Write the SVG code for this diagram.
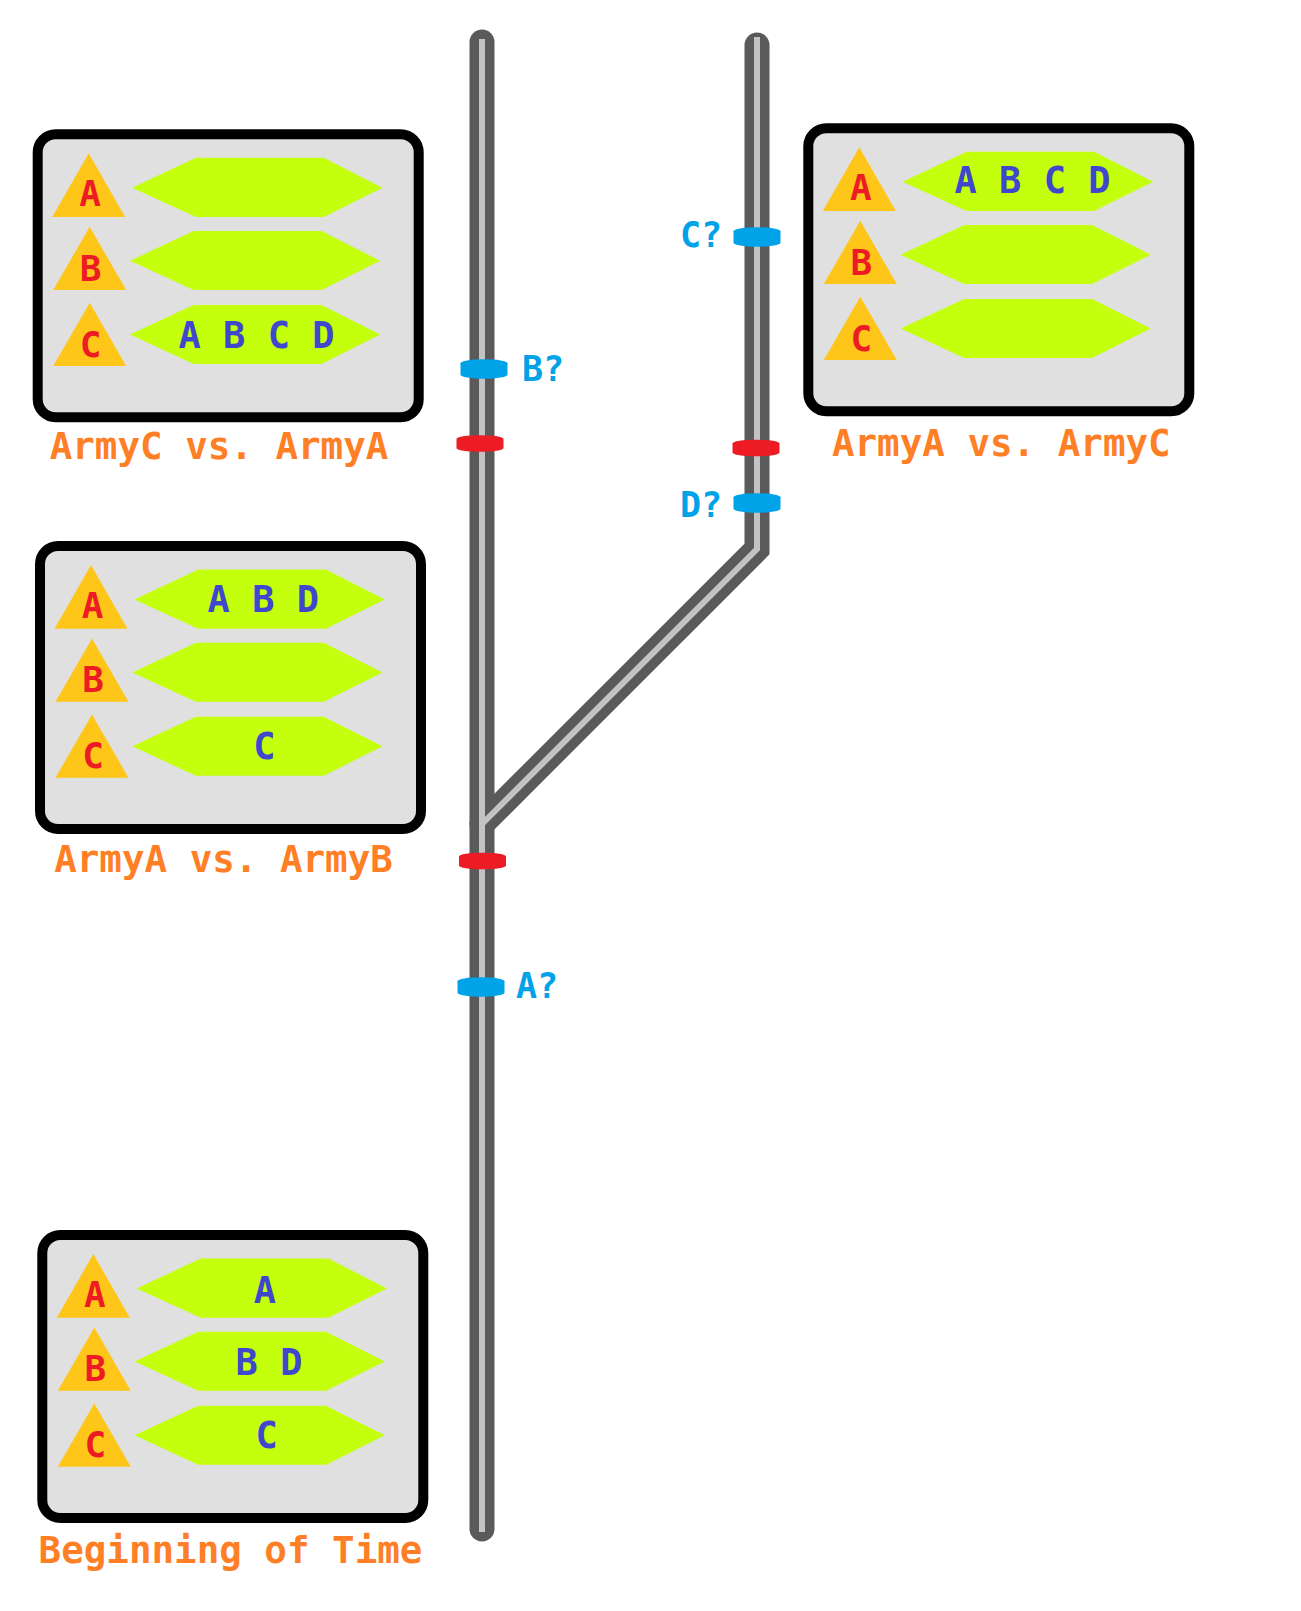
<svg xmlns="http://www.w3.org/2000/svg" width="1301" height="1611" viewBox="0 0 1301 1611">
<style>
text{font-family:"DejaVu Sans Mono","Liberation Mono",monospace;font-weight:bold}
.box{fill:#e0e0e0;stroke:#000;stroke-width:10}
.tri{fill:#ffc61a}
.hex{fill:#c4ff0e}
.tl{fill:#ed1c24;font-size:36px;text-anchor:middle}
.hl{fill:#3f48cc;font-size:37px;text-anchor:middle}
.title{fill:#ff7f27;font-size:37.5px;text-anchor:middle}
.ql{fill:#00a2e8;font-size:35px}
.dark{fill:none;stroke:#5a5a5a;stroke-width:25}
.light{fill:none;stroke:#c3c3c3;stroke-width:6}
.mb{fill:#00a2e8}
.mr{fill:#ed1c24}
</style>
<defs>
<path id="mblue" d="M-23.5,-5.75 A23.5,4 0 0 1 23.5,-5.75 V5.75 A23.5,4 0 0 1 -23.5,5.75 Z"/>
<path id="mred" d="M-23.5,-4.5 A23.5,3.75 0 0 1 23.5,-4.5 V4.5 A23.5,3.75 0 0 1 -23.5,4.5 Z"/>
</defs>
<rect width="1301" height="1611" fill="#fff"/>

<g id="connectors">
<path class="dark" d="M482,42 V1529" stroke-linecap="round"/>
<path class="dark" d="M757,45 V549 L482,824" stroke-linecap="round" stroke-linejoin="miter"/>
<path class="dark" d="M757,549 L482,824" stroke-linecap="butt"/>
<path class="light" d="M482,39 V1532"/>
<path class="light" d="M757,37 V549 L482,824" stroke-linejoin="miter"/>
</g>

<g id="markers">
<use href="#mblue" class="mb" transform="translate(484,369)"/>
<use href="#mred" class="mr" transform="translate(480,443.5)"/>
<use href="#mblue" class="mb" transform="translate(757,237)"/>
<use href="#mred" class="mr" transform="translate(756,448)"/>
<use href="#mblue" class="mb" transform="translate(757,503)"/>
<use href="#mred" class="mr" transform="translate(482.5,861)"/>
<use href="#mblue" class="mb" transform="translate(481,987)"/>
<text class="ql" x="522" y="381">B?</text>
<text class="ql" x="680" y="246.7">C?</text>
<text class="ql" x="680" y="516.7">D?</text>
<text class="ql" x="516" y="998.3">A?</text>
</g>

<g id="box-armyc-vs-armya">
<g transform="translate(37.7,134.3)">
<rect class="box" x="0" y="0" width="381" height="283" rx="18"/>
<polygon class="tri" points="51,19 87.5,82.7 14.5,82.7"/>
<polygon class="hex" points="94.3,53.5 158.3,23.5 286,23.5 344.8,53.5 286,82.7 158.3,82.7"/>
<polygon class="tri" points="52,92.4 88.5,155.8 15.5,155.8"/>
<polygon class="hex" points="92.3,126.5 155.8,96.7 283.8,96.7 342.5,126.5 283.8,155.8 155.8,155.8"/>
<polygon class="tri" points="52,168.4 88.5,231.7 15.5,231.7"/>
<polygon class="hex" points="92.3,200.3 155.8,170.8 283.8,170.8 342.5,200.3 283.8,229.7 155.8,229.7"/>
<text class="tl" x="52.5" y="71.7">A</text>
<text class="tl" x="53" y="146.4">B</text>
<text class="tl" x="53" y="222.4">C</text>
</g>
<text class="hl" x="256.5" y="348">A B C D</text>
<text class="title" x="219" y="459.3">ArmyC vs. ArmyA</text>
</g>

<g id="box-armya-vs-armyc">
<g transform="translate(808.3,128.3)">
<rect class="box" x="0" y="0" width="381" height="283" rx="18"/>
<polygon class="tri" points="51,19 87.5,82.7 14.5,82.7"/>
<polygon class="hex" points="94.3,53.5 158.3,23.5 286,23.5 344.8,53.5 286,82.7 158.3,82.7"/>
<polygon class="tri" points="52,92.4 88.5,155.8 15.5,155.8"/>
<polygon class="hex" points="92.3,126.5 155.8,96.7 283.8,96.7 342.5,126.5 283.8,155.8 155.8,155.8"/>
<polygon class="tri" points="52,168.4 88.5,231.7 15.5,231.7"/>
<polygon class="hex" points="92.3,200.3 155.8,170.8 283.8,170.8 342.5,200.3 283.8,229.7 155.8,229.7"/>
<text class="tl" x="52.5" y="71.7">A</text>
<text class="tl" x="53" y="146.4">B</text>
<text class="tl" x="53" y="222.4">C</text>
</g>
<text class="hl" x="1032.5" y="193.3">A B C D</text>
<text class="title" x="1001.3" y="456">ArmyA vs. ArmyC</text>
</g>

<g id="box-armya-vs-armyb">
<g transform="translate(40,546)">
<rect class="box" x="0" y="0" width="381" height="283" rx="18"/>
<polygon class="tri" points="51,19 87.5,82.7 14.5,82.7"/>
<polygon class="hex" points="94.3,53.5 158.3,23.5 286,23.5 344.8,53.5 286,82.7 158.3,82.7"/>
<polygon class="tri" points="52,92.4 88.5,155.8 15.5,155.8"/>
<polygon class="hex" points="92.3,126.5 155.8,96.7 283.8,96.7 342.5,126.5 283.8,155.8 155.8,155.8"/>
<polygon class="tri" points="52,168.4 88.5,231.7 15.5,231.7"/>
<polygon class="hex" points="92.3,200.3 155.8,170.8 283.8,170.8 342.5,200.3 283.8,229.7 155.8,229.7"/>
<text class="tl" x="52.5" y="71.7">A</text>
<text class="tl" x="53" y="146.4">B</text>
<text class="tl" x="53" y="222.4">C</text>
</g>
<text class="hl" x="263.3" y="612.3">A B D</text>
<text class="hl" x="264.3" y="759">C</text>
<text class="title" x="223.5" y="871.7">ArmyA vs. ArmyB</text>
</g>

<g id="box-beginning-of-time">
<g transform="translate(42.3,1235)">
<rect class="box" x="0" y="0" width="381" height="283" rx="18"/>
<polygon class="tri" points="51,19 87.5,82.7 14.5,82.7"/>
<polygon class="hex" points="94.3,53.5 158.3,23.5 286,23.5 344.8,53.5 286,82.7 158.3,82.7"/>
<polygon class="tri" points="52,92.4 88.5,155.8 15.5,155.8"/>
<polygon class="hex" points="92.3,126.5 155.8,96.7 283.8,96.7 342.5,126.5 283.8,155.8 155.8,155.8"/>
<polygon class="tri" points="52,168.4 88.5,231.7 15.5,231.7"/>
<polygon class="hex" points="92.3,200.3 155.8,170.8 283.8,170.8 342.5,200.3 283.8,229.7 155.8,229.7"/>
<text class="tl" x="52.5" y="71.7">A</text>
<text class="tl" x="53" y="146.4">B</text>
<text class="tl" x="53" y="222.4">C</text>
</g>
<text class="hl" x="265" y="1302.7">A</text>
<text class="hl" x="269" y="1375">B D</text>
<text class="hl" x="266.7" y="1448">C</text>
<text class="title" x="230.5" y="1563.3">Beginning of Time</text>
</g>
</svg>
